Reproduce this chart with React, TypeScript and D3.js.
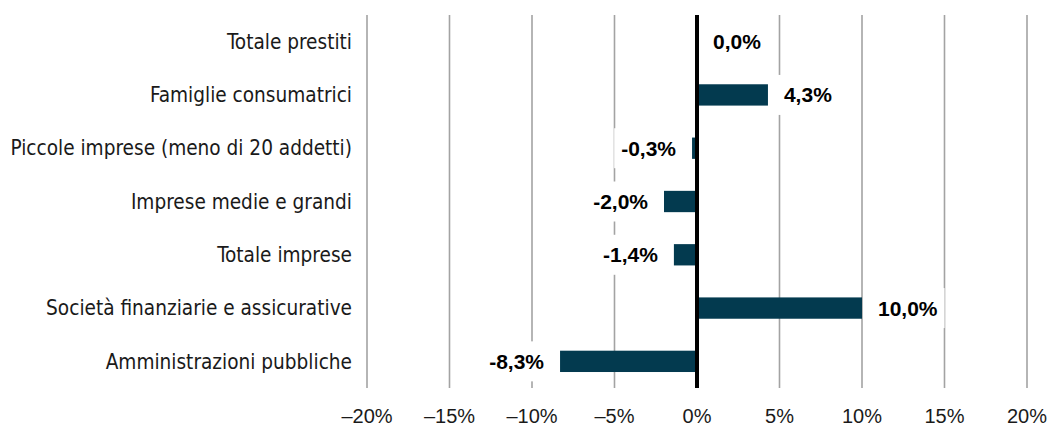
import { useEffect, useRef } from "react";
import * as d3 from "d3";

const categories = [
  "Totale prestiti",
  "Famiglie consumatrici",
  "Piccole imprese (meno di 20 addetti)",
  "Imprese medie e grandi",
  "Totale imprese",
  "Società finanziarie e assicurative",
  "Amministrazioni pubbliche",
];
const values = [0.0, 4.3, -0.3, -2.0, -1.4, 10.0, -8.3];
const ticks = [-20, -15, -10, -5, 0, 5, 10, 15, 20];

const fmt = (v: number) => v.toFixed(1).replace(".", ",") + "%";

export default function App() {
  const ref = useRef<SVGSVGElement | null>(null);

  useEffect(() => {
    if (!ref.current) return;
    const width = 1051;
    const height = 427;
    const margin = { top: 15, bottom: 39, left: 367, right: 24 };

    const svg = d3.select(ref.current).attr("viewBox", `0 0 ${width} ${height}`);
    svg.selectAll("*").remove();

    const x = d3.scaleLinear().domain([-20, 20]).range([margin.left, width - margin.right]);
    const y = d3
      .scaleBand()
      .domain(categories)
      .range([margin.top, height - margin.bottom])
      .paddingInner(0.6)
      .paddingOuter(0.3);

    /* grid */
    svg.selectAll(".grid")
      .data(ticks.filter(t => t !== 0))
      .enter()
      .append("line")
      .attr("x1", d => x(d))
      .attr("x2", d => x(d))
      .attr("y1", margin.top)
      .attr("y2", height - margin.bottom)
      .attr("stroke", "#a3a3a3")
      .attr("stroke-width", 1.6);

    /* tick labels */
    svg.selectAll(".tick")
      .data(ticks)
      .enter()
      .append("text")
      .attr("x", d => x(d))
      .attr("y", 423)
      .attr("text-anchor", "middle")
      .attr("font-family", "'Liberation Sans', Arial, sans-serif")
      .attr("font-size", 20)
      .attr("fill", "#1a1a1a")
      .text(d => (d < 0 ? "\u2013" + Math.abs(d) : d) + "%");

    /* category labels */
    svg.selectAll(".cat")
      .data(categories)
      .enter()
      .append("text")
      .attr("x", 352)
      .attr("y", d => y(d)! + y.bandwidth() / 2)
      .attr("dy", "0.35em")
      .attr("text-anchor", "end")
      .attr("font-family", "'DejaVu Sans Condensed', sans-serif")
      .attr("font-size", 20.6)
      .attr("fill", "#1a1a1a")
      .text(d => d);

    /* bars */
    svg.selectAll(".bar")
      .data(values)
      .enter()
      .append("rect")
      .attr("x", d => x(Math.min(0, d)))
      .attr("y", (_, i) => y(categories[i])!)
      .attr("width", d => Math.abs(x(d) - x(0)))
      .attr("height", y.bandwidth())
      .attr("fill", "#033a4f");

    /* value labels with white boxes */
    const lbl = svg.selectAll(".lbl")
      .data(values)
      .enter()
      .append("g");

    lbl.each(function (d, i) {
      const g = d3.select(this);
      const cy = y(categories[i])! + y.bandwidth() / 2;
      const gap = 16;
      const pos = d >= 0;
      const tx = pos ? x(d) + gap : x(d) - gap;
      const rect = g.append("rect").attr("fill", "#fff");
      const t = g.append("text")
        .attr("x", tx)
        .attr("y", cy)
        .attr("dy", "0.36em")
        .attr("text-anchor", pos ? "start" : "end")
        .attr("font-family", "'Liberation Sans', Arial, sans-serif")
        .attr("font-weight", "bold")
        .attr("font-size", 21)
        .attr("fill", "#000")
        .text(fmt(d));
      const w = (t.node() as SVGTextElement).getComputedTextLength();
      const pad = 7;
      rect
        .attr("x", (pos ? tx : tx - w) - pad)
        .attr("y", cy - 20)
        .attr("width", w + pad * 2)
        .attr("height", 40);
    });

    /* zero line */
    svg.append("line")
      .attr("x1", x(0))
      .attr("x2", x(0))
      .attr("y1", margin.top)
      .attr("y2", height - margin.bottom)
      .attr("stroke", "#000")
      .attr("stroke-width", 4);
  }, []);

  return (
    <svg
      ref={ref}
      width={1051}
      height={427}
      style={{ position: "absolute", left: 0, top: 0, display: "block" }}
    />
  );
}
